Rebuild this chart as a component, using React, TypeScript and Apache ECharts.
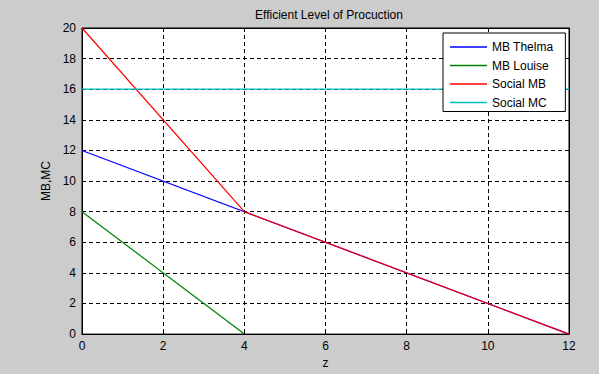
import React, { useEffect, useRef } from "react";
import * as echarts from "echarts";

const zThelma = [0, 12];
const mbThelma = [12, 0];
const zLouise = [0, 4];
const mbLouise = [8, 0];
const zSocialMB = [0, 4, 12];
const socialMB = [20, 8, 0];
const zSocialMC = [0, 12];
const socialMC = [16, 16];

const xTicks = { min: 0, max: 12, interval: 2 };
const yTicks = { min: 0, max: 20, interval: 2 };

const pair = (xs: number[], ys: number[]) => xs.map((x, i) => [x, ys[i]]);

const FONT = "Liberation Sans, Arial, sans-serif";

export default function App() {
  const ref = useRef<HTMLDivElement>(null);
  useEffect(() => {
    if (!ref.current) return;
    const chart = echarts.init(ref.current, undefined, { renderer: "svg" });
    const tickStyle = { show: true, inside: true, length: 4, lineStyle: { color: "#000", width: 1 } };
    const mkX = (pos: "bottom" | "top", labels: boolean) => ({
      type: "value",
      position: pos,
      ...xTicks,
      name: labels ? "z" : "",
      nameLocation: "middle",
      nameGap: 21,
      nameTextStyle: { color: "#000", fontFamily: FONT, fontSize: 12 },
      axisLine: { show: true, onZero: false, lineStyle: { color: "#000", width: 1 } },
      axisTick: tickStyle,
      axisLabel: { show: labels, color: "#000", fontFamily: FONT, fontSize: 12, margin: 6 },
      splitLine: labels
        ? { show: true, lineStyle: { color: "#000", type: [4, 3], width: 1 } }
        : { show: false },
    });
    const mkY = (pos: "left" | "right", labels: boolean) => ({
      type: "value",
      position: pos,
      ...yTicks,
      name: labels ? "MB,MC" : "",
      nameLocation: "middle",
      nameGap: 28,
      nameTextStyle: { color: "#000", fontFamily: FONT, fontSize: 12 },
      axisLine: { show: true, onZero: false, lineStyle: { color: "#000", width: 1 } },
      axisTick: tickStyle,
      axisLabel: { show: labels, color: "#000", fontFamily: FONT, fontSize: 12, margin: 6 },
      splitLine: labels
        ? { show: true, lineStyle: { color: "#000", type: [4, 3], width: 1 } }
        : { show: false },
    });
    const line = (name: string, data: number[][], color: string) => ({
      name,
      type: "line",
      data,
      symbol: "none",
      lineStyle: { color, width: 1.2 },
      itemStyle: { color },
    });
    chart.setOption({
      animation: false,
      backgroundColor: "#cccccc",
      title: {
        text: "Efficient Level of Procuction",
        left: 324,
        textAlign: "center",
        top: 4,
        textStyle: { color: "#000", fontFamily: FONT, fontSize: 12, fontWeight: "normal" },
      },
      grid: {
        left: 82,
        right: 30,
        top: 28,
        bottom: 36,
        show: true,
        backgroundColor: "#fff",
        borderColor: "#000",
        borderWidth: 1,
        containLabel: false,
      },
      xAxis: [mkX("bottom", true), mkX("top", false)],
      yAxis: [mkY("left", true), mkY("right", false)],
      legend: {
        orient: "vertical",
        left: 443,
        top: 33,
        width: 119,
        padding: [7, 12, 2, 7],
        icon: "rect",
        itemWidth: 37,
        itemHeight: 1.5,
        itemGap: 4.5,
        backgroundColor: "#fff",
        borderColor: "#000",
        borderWidth: 1,
        borderRadius: 0,
        textStyle: { color: "#000", fontFamily: FONT, fontSize: 12, lineHeight: 14 },
        data: ["MB Thelma", "MB Louise", "Social MB", "Social MC"],
      },
      series: [
        line("MB Thelma", pair(zThelma, mbThelma), "#0000ff"),
        line("MB Louise", pair(zLouise, mbLouise), "#008000"),
        line("Social MB", pair(zSocialMB, socialMB), "#ff0000"),
        line("Social MC", pair(zSocialMC, socialMC), "#00bfbf"),
      ],
    });
    return () => chart.dispose();
  }, []);
  return <div ref={ref} style={{ width: 599, height: 374, position: "absolute", left: 0, top: 0 }} />;
}
